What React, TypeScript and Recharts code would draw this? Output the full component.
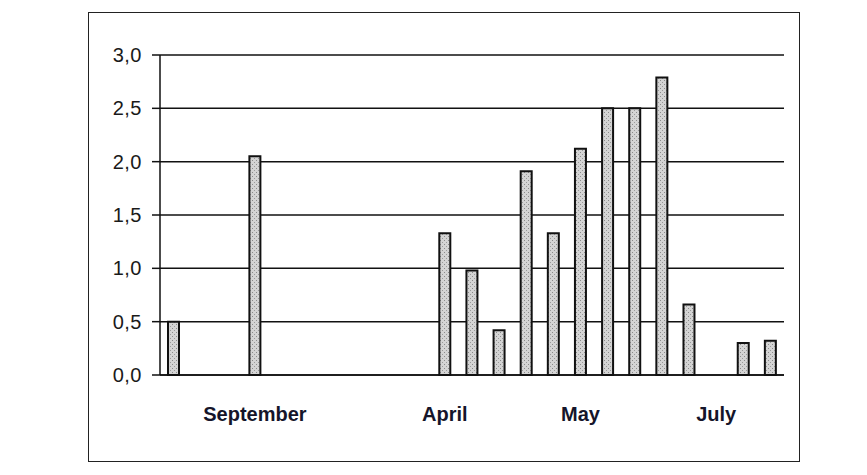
import { BarChart, Bar, XAxis, YAxis, CartesianGrid } from 'recharts';

// one slot per sampling date; only some slots carry a measurement
const readings: (number | null)[] = [
  0.5, null, null, 2.05, null, null, null, null, null, null,
  1.33, 0.98, 0.42, 1.91, 1.33, 2.12, 2.5, 2.5, 2.79, 0.66,
  null, 0.3, 0.32,
];

// month names are written under selected slots only
const monthLabels: string[] = [
  '', '', '', 'September', '', '', '', '', '', '',
  'April', '', '', '', '', 'May', '', '', '', '',
  'July', '', '',
];

const yTicks = [0, 0.5, 1, 1.5, 2, 2.5, 3];

const data = readings.map((value, i) => ({ slot: i, value }));

const FONT = '"Liberation Sans", Arial, sans-serif';

export default function App() {
  return (
    <div
      style={{
        position: 'relative',
        width: 867,
        height: 475,
        margin: -8,
        background: '#ffffff',
        fontFamily: FONT,
      }}
    >
      {/* outer chart frame */}
      <div
        style={{
          position: 'absolute',
          left: 88,
          top: 12,
          width: 712,
          height: 450,
          border: '1.5px solid #222',
          boxSizing: 'border-box',
        }}
      />
      <div style={{ position: 'absolute', left: 0, top: 0 }}>
        <BarChart
          width={867}
          height={475}
          data={data}
          barCategoryGap={0}
          margin={{ top: 55, right: 83, bottom: 40, left: 100 }}
        >
          <defs>
            {/* speckled light grey fill for the bars */}
            <pattern id="speckle" width="4" height="4" patternUnits="userSpaceOnUse">
              <rect width="4" height="4" fill="#d4d4d4" />
              <rect x="0" y="0" width="1" height="1" fill="#8a8a8a" />
              <rect x="2" y="2" width="1" height="1" fill="#9a9a9a" />
            </pattern>
          </defs>
          <CartesianGrid
            yAxisId="left"
            vertical={false}
            stroke="#111"
            strokeWidth={1.5}
          />
          <XAxis
            dataKey="slot"
            type="category"
            interval={0}
            height={60}
            tickLine={false}
            tickSize={0}
            tickMargin={32}
            axisLine={{ stroke: '#111', strokeWidth: 1.5 }}
            tickFormatter={(i: number) => monthLabels[i]}
            tick={{ fontSize: 20, fontWeight: 700, fill: '#15152a', fontFamily: FONT }}
          />
          <YAxis
            yAxisId="left"
            width={60}
            domain={[0, 3]}
            ticks={yTicks}
            interval={0}
            tickSize={8}
            tickMargin={10}
            axisLine={{ stroke: '#111', strokeWidth: 1.5 }}
            tickLine={{ stroke: '#111', strokeWidth: 1.5 }}
            tickFormatter={(v: number) => v.toFixed(1).replace('.', ',')}
            tick={{ fontSize: 20, fill: '#1a1a1a', fontFamily: FONT, letterSpacing: 0.5 }}
          />
          {/* right edge of the plot area */}
          <YAxis
            yAxisId="right"
            orientation="right"
            width={0}
            domain={[0, 3]}
            tick={false}
            tickLine={false}
            axisLine={{ stroke: '#111', strokeWidth: 1.5 }}
          />
          <Bar
            yAxisId="left"
            dataKey="value"
            fill="url(#speckle)"
            stroke="#111"
            strokeWidth={2}
            barSize={11}
            isAnimationActive={false}
          />
        </BarChart>
      </div>
    </div>
  );
}
